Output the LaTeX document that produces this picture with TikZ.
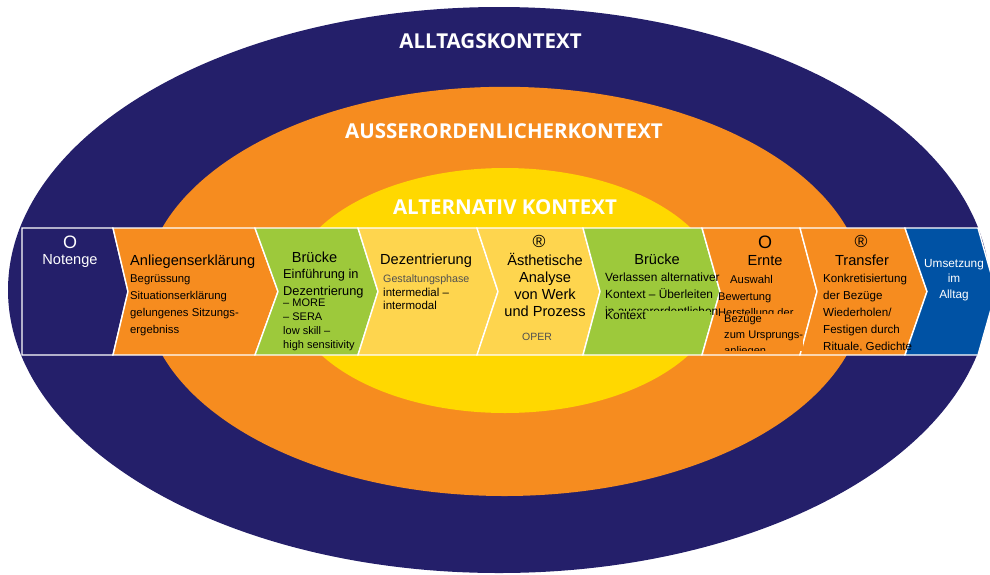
\documentclass[tikz,border=0pt]{standalone}
\usepackage{fontspec}
\setmainfont{Liberation Sans}
\newfontfamily\titlefont{Open Sans}
\usepackage{tikz}

\definecolor{alltag}{HTML}{241F6A}
\definecolor{ausser}{HTML}{F68C1F}
\definecolor{alternativ}{HTML}{FFD800}
\definecolor{hell}{HTML}{FED54E}
\definecolor{gruen}{HTML}{9DC93B}
\definecolor{blau}{HTML}{0052A4}
\definecolor{grau}{HTML}{505050}

% chevron: colour, left top x, left tip x, right top x, right tip x
\newcommand{\chevron}[5]{%
    \filldraw[block, fill=#1] (#2,228) -- (#4,228) -- (#5,291.5) -- (#4,355) -- (#2,355) -- (#3,291.5) -- cycle;}

\begin{document}
\begin{tikzpicture}[
                    x=1pt, y=-1pt,
                    block/.style={draw=white, line width=1.4pt, line join=miter},
                    title/.style={text=white, inner sep=0pt, anchor=base,
                        font=\titlefont\bfseries\fontsize{20.5}{20.5}\selectfont},
                    head/.style={anchor=base, inner sep=0pt,
                        font=\fontsize{14.6}{17}\selectfont},
                    body/.style={anchor=base west, align=left, inner sep=0pt,
                        font=\fontsize{11.3}{17}\selectfont},
                    symbol/.style={anchor=center, inner sep=0pt,
                        font=\fontsize{18}{18}\selectfont}
                ]

                    \useasboundingbox (0,0) rectangle (990,574);
                    \clip (0,0) rectangle (990,574);

                    % Rings
                    \fill[alltag] (499,290) ellipse [x radius=491, y radius=283];
                    \fill[ausser] (504.5,291.4) ellipse [x radius=360, y radius=204.6];
                    \fill[alternativ] (505,290.5) ellipse [x radius=216, y radius=122.5];

                    \node[title] (alltagskontext) at (490.5,48) {ALLTAGSKONTEXT};
                    \node[title] (ausserkontext) at (504,138) {AUSSERORDENLICHERKONTEXT};
                    \node[title] (altkontext) at (505,214) {ALTERNATIV KONTEXT};

                    % Chevrons
                    \chevron{alltag}{22}{22}{113}{128}
                    \chevron{ausser}{113}{128}{255}{278}
                    \chevron{gruen}{255}{278}{358}{378}
                    \chevron{hell}{358}{378}{477}{498}
                    \chevron{hell}{477}{498}{583}{600}
                    \chevron{gruen}{583}{600}{702}{720}
                    \chevron{ausser}{702}{720}{800}{817}
                    \chevron{ausser}{800}{817}{905}{927}
                    \chevron{blau}{905}{927}{978}{996}

                    % Labels (multi-line nodes sit on their last baseline)
                    \begin{scope}
                    \clip (22,228) rectangle (990,350.5);

                    \node[symbol, text=white] (null1) at (70,242) {O};
                    \node[head, text=white] (notenge) at (70,264) {Notenge};

                    \node[head, anchor=base west] (anliegen) at (130,265) {Anliegenserklärung};
                    \node[body] (anliegentext) at (130,333)
                        {Begrüssung\\Situationserklärung\\gelungenes Sitzungs-\\ergebniss};

                    \node[head] (bruecke1) at (314.5,262) {Brücke};
                    \node[body, font=\fontsize{12.8}{17}\selectfont] (einfuehrung) at (283,295)
                        {Einführung in\\Dezentrierung};
                    \node[body, font=\fontsize{11}{14}\selectfont] (more) at (283,348)
                        {– MORE\\– SERA\\low skill –\\high sensitivity};

                    \node[head, anchor=base west] (dezentrierung) at (380,264) {Dezentrierung};
                    \node[body, font=\fontsize{10.7}{13}\selectfont, text=grau] (gestaltung) at (383,282)
                        {Gestaltungsphase};
                    \node[body, font=\fontsize{11.5}{13}\selectfont] (intermedial) at (383,309)
                        {intermedial –\\intermodal};

                    \node[symbol, font=\fontsize{17.5}{17.5}\selectfont] (reg1) at (539,241) {®};
                    \node[head, align=center] (analyse) at (545,316)
                        {Ästhetische\\Analyse\\von Werk\\und Prozess};
                    \node[head, font=\fontsize{10.5}{12}\selectfont, text=grau] (oper) at (537,340) {OPER};

                    \node[head] (bruecke2) at (657,264) {Brücke};
                    \node[body, font=\fontsize{11.9}{17}\selectfont] (verlassen) at (605,315)
                        {Verlassen alternativer\\Kontext – Überleiten\\in ausserordentlichen};
                    \node[body, font=\fontsize{11.9}{17}\selectfont, fill=gruen,
                        text width=105pt, text height=8.8pt, text depth=3pt] (kontext) at (605,319.5)
                        {Kontext};

                    \node[symbol] (null2) at (765,242) {O};
                    \node[head] (ernte) at (765,265) {Ernte};
                    \node[body] (auswahl) at (730,283) {Auswahl};
                    \node[body, font=\fontsize{11.1}{16.5}\selectfont] (bewertung) at (718,316.5)
                        {Bewertung\\Herstellung der};
                    \node[body, font=\fontsize{11.1}{16}\selectfont, fill=ausser] (bezuege) at (724,354)
                        {Bezüge\\zum Ursprungs-\\anliegen};

                    \node[symbol, font=\fontsize{17.5}{17.5}\selectfont] (reg2) at (861,241) {®};
                    \node[head] (transfer) at (862,265) {Transfer};
                    \node[body, font=\fontsize{11.6}{17}\selectfont] (konkret) at (823,350)
                        {Konkretisiertung\\der Bezüge\\Wiederholen/\\Festigen durch\\Rituale, Gedichte};

                    \node[head, align=center, text=white, font=\fontsize{11.8}{15.5}\selectfont] (umsetzung) at (954,298)
                        {Umsetzung\\im\\Alltag};
                    \end{scope}
                \end{tikzpicture}
\end{document}
